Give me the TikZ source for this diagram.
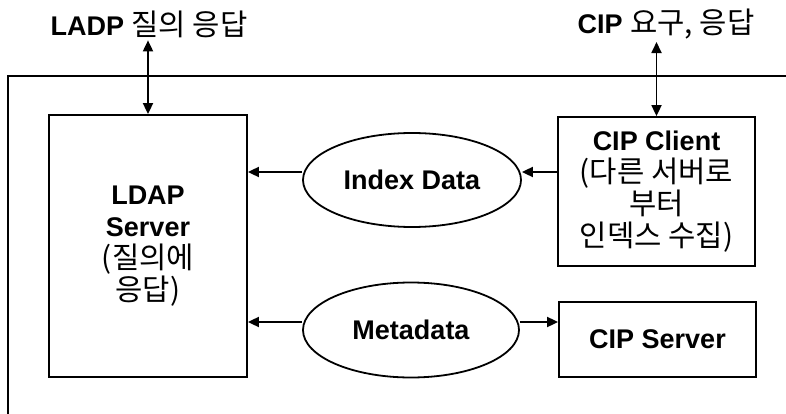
\documentclass[tikz,border=0pt]{standalone}
\usepackage{fontspec}
\setmainfont{Liberation Sans}
\newfontfamily\kr[Scale=1.1]{Noto Sans CJK KR}
\usetikzlibrary{arrows.meta,shapes.geometric}

\begin{document}
\begin{tikzpicture}[
    x=1pt, y=-1pt, line width=1.8pt,
    font=\fontsize{27}{32}\selectfont\bfseries,
    flow/.style={-{Triangle[length=11pt,width=10pt]}},
    both/.style={{Triangle[length=11pt,width=10pt]}-{Triangle[length=11pt,width=10pt]}},
    box/.style={draw, rectangle, align=center, inner sep=0},
    blob/.style={draw, ellipse, inner sep=0},
    toplabel/.style={font=\fontsize{27}{30}\selectfont\bfseries, inner sep=2pt},
  ]
  \useasboundingbox (0,0) rectangle (786,414);

  % outer frame, open to the right and bottom
  \draw (786,76) -- (8,76) -- (8,414);

  \node[toplabel] (ldapq) at (149,24) {LADP {\kr\mdseries 질의 응답}};
  \node[toplabel] (cipq) at (666,24) {CIP {\kr\mdseries 요구, 응답}};

  \node[box, minimum width=198, minimum height=262] (ldap) at (148,246)
    {LDAP\\Server\\{\kr\mdseries (질의에}\\{\kr\mdseries 응답)}};
  \node[box, minimum width=197, minimum height=149] (cipc) at (656.5,191.5)
    {CIP Client\\{\kr\mdseries (다른 서버로}\\{\kr\mdseries 부터}\\{\kr\mdseries 인덱스 수집)}};
  \node[box, minimum width=197, minimum height=75] (cips) at (657.5,339.5) {CIP Server};

  \node[blob, minimum width=218, minimum height=94] (idx) at (412,180) {Index Data};
  \node[blob, minimum width=216, minimum height=95] (meta) at (411,330) {Metadata};

  \draw[both] (ldap.north |- ldapq.south) -- (ldap.north);
  \draw[both] (cipc.north |- cipq.south) -- (cipc.north);

  \draw[flow] ([yshift=8pt]idx.west) -- ([yshift=8pt]idx.west -| ldap.east);
  \draw[flow] ([yshift=8pt]idx.east -| cipc.west) -- ([yshift=8pt]idx.east);
  \draw[flow] ([yshift=8pt]meta.west) -- ([yshift=8pt]meta.west -| ldap.east);
  \draw[flow] ([yshift=8pt]meta.east) -- ([yshift=8pt]meta.east -| cips.west);

\end{tikzpicture}
\end{document}
